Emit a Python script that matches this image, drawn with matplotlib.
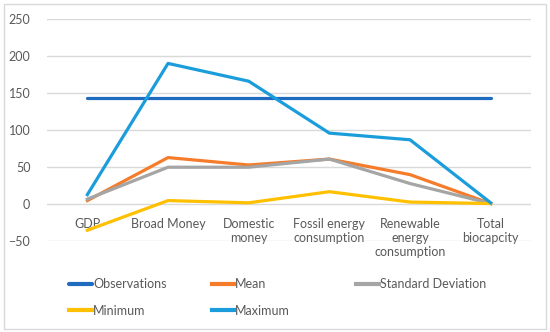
import matplotlib.pyplot as plt
from matplotlib.patches import Rectangle

plt.rcParams['font.family'] = ['Lato', 'DejaVu Sans']

categories = ['GDP', 'Broad Money', 'Domestic\nmoney', 'Fossil energy\nconsumption',
              'Renewable\nenergy\nconsumption', 'Total\nbiocapcity']
observations = [144, 144, 144, 144, 144, 144]
mean = [5, 63, 53, 61, 40, 1]
std_dev = [7, 50, 50, 61, 28, 1]
minimum = [-35, 5, 2, 17, 3, 1]
maximum = [13, 190, 166, 96, 87, 2]

text_color = '#595959'
grid_color = '#d9d9d9'

fig = plt.figure(figsize=(5.5, 3.32), dpi=100)
ax = fig.add_axes([0.0855, 0.273, 0.88, 0.670])

x = range(len(categories))
lw = 2.3
l_obs, = ax.plot(x, observations, color='#1f6bc0', lw=lw, label='Observations', solid_capstyle='round')
l_mean, = ax.plot(x, mean, color='#f47c2a', lw=lw, label='Mean')
l_std, = ax.plot(x, std_dev, color='#a5a5a5', lw=lw, label='Standard Deviation')
l_min, = ax.plot(x, minimum, color='#ffc000', lw=lw, label='Minimum')
l_max, = ax.plot(x, maximum, color='#1c9ddb', lw=lw, label='Maximum')

ax.set_xlim(-0.5, len(categories) - 0.5)
ax.set_ylim(-50, 250)
ax.set_yticks(range(-50, 251, 50))
ax.set_xticks(list(x))
ax.set_xticklabels(categories, linespacing=1.4)
ax.spines['bottom'].set_position(('data', 0))
for s in ax.spines.values():
    s.set_visible(False)
ax.tick_params(axis='both', length=0, labelsize=9, colors=text_color)
ax.tick_params(axis='x', pad=10)
ax.tick_params(axis='y', pad=12)
ax.grid(axis='y', color=grid_color, lw=1)
ax.set_axisbelow(True)

# Excel-style legend: equal column widths, so split into two legends
leg_kw = dict(loc='upper left', frameon=False, fontsize=9, handlelength=1.8,
              handletextpad=0.1, labelspacing=1.15)
h1 = [l_obs, l_min, l_mean, l_max]
leg1 = fig.legend(h1, [h.get_label() for h in h1], ncol=2, columnspacing=3.6,
                  bbox_to_anchor=(58 / 550, 1 - 267 / 332), **leg_kw)
leg2 = fig.legend([l_std], [l_std.get_label()],
                  bbox_to_anchor=(345 / 550, 1 - 267 / 332), **leg_kw)
for leg in (leg1, leg2):
    for t in leg.get_texts():
        t.set_color(text_color)
    for h in leg.get_lines():
        h.set_linewidth(3)

fig.patches.append(Rectangle((4 / 550, 3 / 332), 542 / 550, 325 / 332,
                             transform=fig.transFigure, fill=False,
                             edgecolor=grid_color, lw=1))

fig.savefig('out.png', dpi=100)
